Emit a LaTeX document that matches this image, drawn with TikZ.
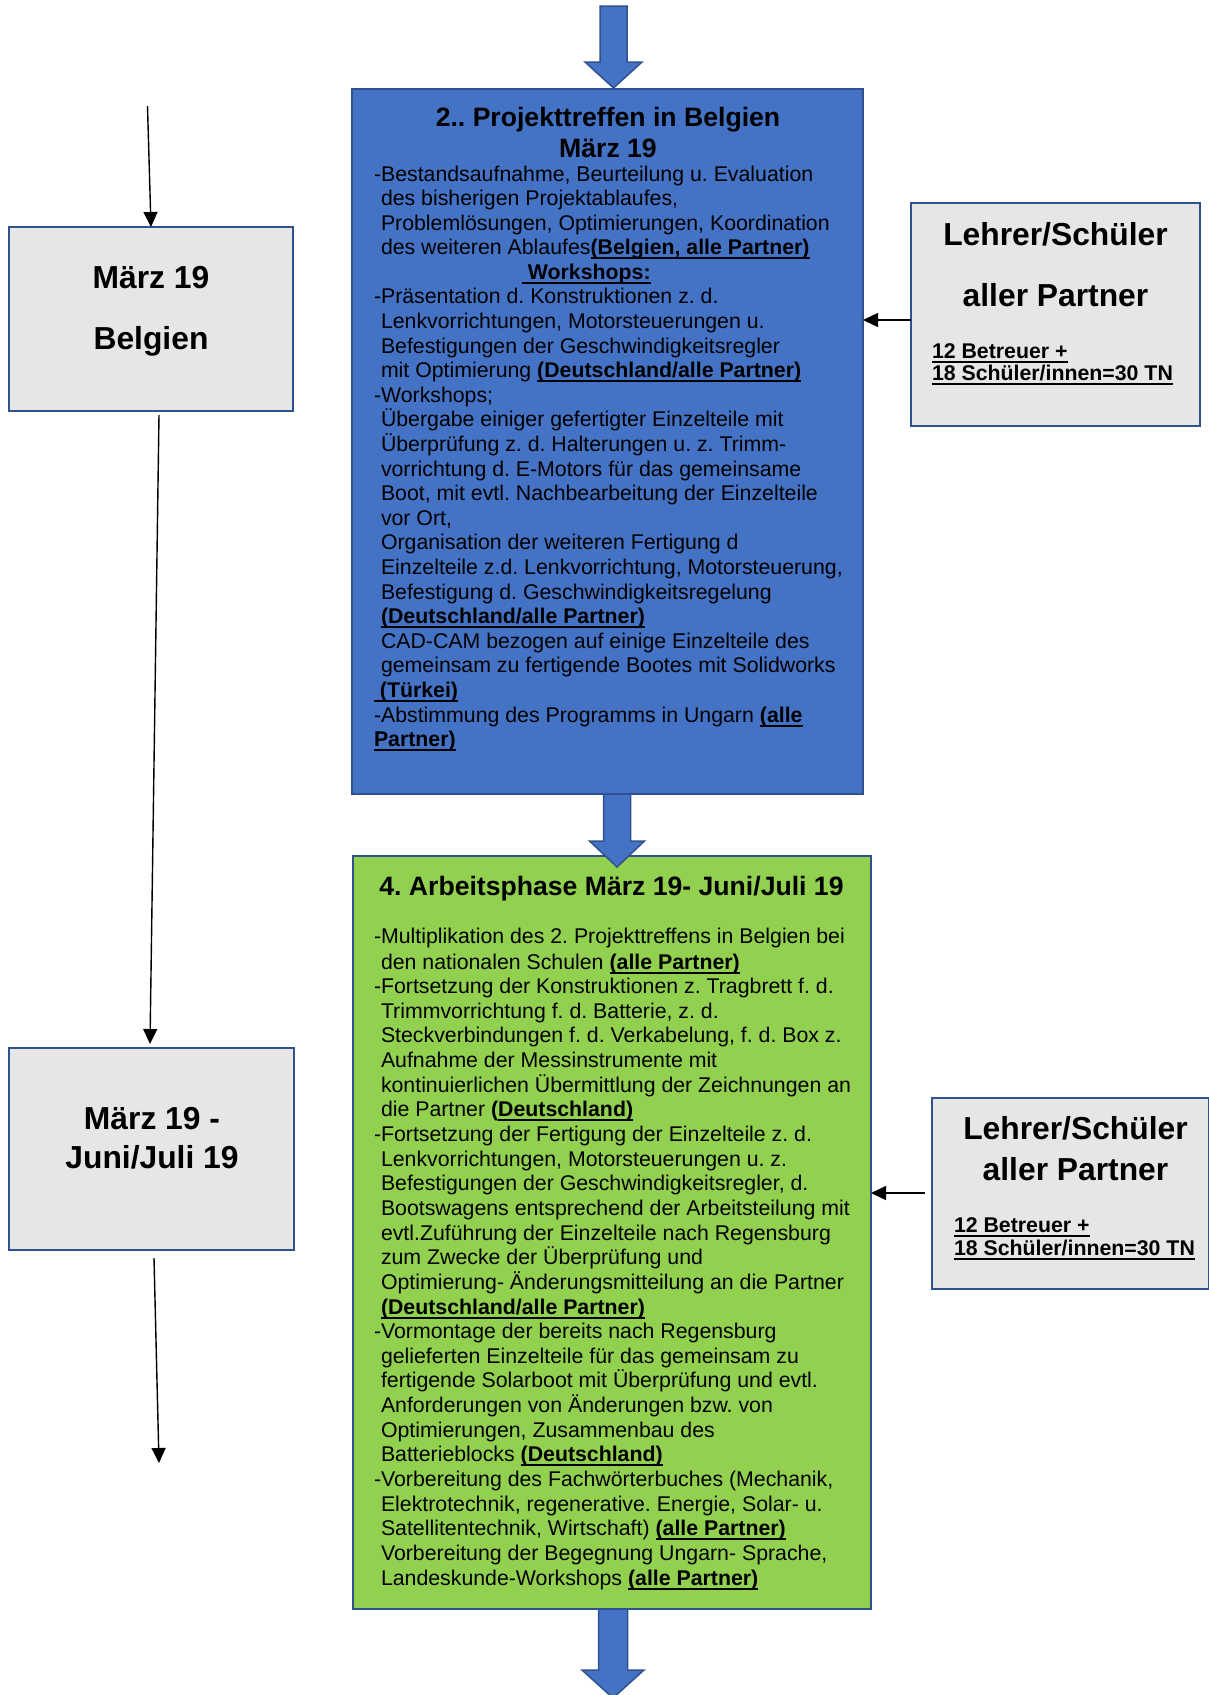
\documentclass[tikz,border=0pt]{standalone}
\usepackage{fontspec}
\setmainfont{Liberation Sans}
\usetikzlibrary{arrows.meta}

\definecolor{boxblue}{HTML}{4472C4}
\definecolor{boxgreen}{HTML}{92D050}
\definecolor{boxgray}{HTML}{E7E6E6}
\definecolor{edgeblue}{HTML}{2F528F}

% bold text with a heavy underline
\newsavebox\ulbox
\newcommand\ulb[1]{\sbox\ulbox{\bfseries #1}\rlap{\rule[-4.6pt]{\wd\ulbox}{2.1pt}}\usebox\ulbox}
\newcommand\bodyfont{\fontsize{21.3}{24.6}\selectfont}
\newcommand\headfont{\fontsize{26.6}{30.6}\selectfont\bfseries}
\newcommand\bigfont{\fontsize{31.8}{38}\selectfont\bfseries}

% wide downward block arrow: x, y top, y head, y tip, half shaft, half head
\newcommand\blockarrow[6]{%
  \draw[blockarr] ({#1-#5},#2) -- ({#1+#5},#2) -- ({#1+#5},#3) -- ({#1+#6},#3)
    -- (#1,#4) -- ({#1-#6},#3) -- ({#1-#5},#3) -- cycle;}

\frenchspacing
\begin{document}
\begin{tikzpicture}[x=1pt,y=-1pt,
  panel/.style={draw=edgeblue, line width=2.3pt, outer sep=0pt, inner sep=0pt},
  ln/.style={anchor=base west, inner sep=0pt, outer sep=0pt, font=\bodyfont},
  ulln/.style={anchor=base west, inner sep=0pt, outer sep=0pt, font=\bodyfont\bfseries},
  hd/.style={anchor=base, inner sep=0pt, outer sep=0pt, font=\headfont},
  big/.style={anchor=base, inner sep=0pt, outer sep=0pt, font=\bigfont},
  conn/.style={line width=1.4pt, -{Triangle[length=15pt,width=14pt]}},
  blockarr/.style={fill=boxblue, draw=edgeblue, line width=1.5pt, line join=miter},
]
\useasboundingbox (0,0) rectangle (1209,1695);

% panels
\node[panel, fill=boxblue,  minimum width=511pt, minimum height=705pt] (blue)  at (607.5,441.5) {};
\node[panel, fill=boxgreen, minimum width=518pt, minimum height=753pt] (green) at (612,1232.5) {};
\node[panel, fill=boxgray,  minimum width=289pt, minimum height=223pt] (rb1)   at (1055.5,314.5) {};
\node[panel, fill=boxgray,  minimum width=277pt, minimum height=191pt] (rb2)   at (1070.5,1193.5) {};
\node[panel, fill=boxgray,  minimum width=284pt, minimum height=184pt] (lb1)   at (151,319) {};
\node[panel, fill=boxgray,  minimum width=285pt, minimum height=202pt] (lb2)   at (151.5,1149) {};

% block arrows along the main column
\blockarrow{613.5}{6}{62}{88}{13.5}{28.5}
\blockarrow{617}{794}{841}{867}{13.5}{27.5}
\blockarrow{613}{1609}{1670}{1698}{14.5}{31}

% time line on the left
\coordinate (t0) at (147.5,106);
\coordinate (t1) at (159,415);
\coordinate (t2) at (154,1258);
\coordinate (t3) at (159,1463);
\draw[conn] (t0) -- (lb1.north);
\draw[conn] (t1) -- ([xshift=-1.5pt,yshift=4pt]lb2.north);
\draw[conn] (t2) -- (t3);

% participants feeding into the phases
\coordinate (p1) at (911,320);
\coordinate (p2) at (925,1193);
\draw[conn] (p1) -- (blue.east |- p1);
\draw[conn] (p2) -- (green.east |- p2);

% left dates
\node[big] (l1a) at (151,288) {März 19};
\node[big] (l1b) at (151,349) {Belgien};
\node[big] (l2a) at (152,1129) {März 19 -};
\node[big] (l2b) at (152,1168) {Juni/Juli 19};

% participants
\node[big] (r1a) at (1055.5,245) {Lehrer/Schüler};
\node[big] (r1b) at (1055.5,306) {aller Partner};
\node[ulln] (r1c) at (932,358) {\ulb{12 Betreuer +}};
\node[ulln] (r1d) at (932,380) {\ulb{18 Schüler/innen=30 TN}};
\node[big] (r2a) at (1075.5,1139) {Lehrer/Schüler};
\node[big] (r2b) at (1075.5,1180) {aller Partner};
\node[ulln] (r2c) at (954,1232) {\ulb{12 Betreuer +}};
\node[ulln] (r2d) at (954,1255) {\ulb{18 Schüler/innen=30 TN}};

% project meeting
\node[hd] (bt1) at (608,126.5) {2.. Projekttreffen in Belgien};
\node[hd] (bt2) at (608,157.5) {März 19};
\node[ln] (b1)  at (374,181.0) {-Bestandsaufnahme, Beurteilung u. Evaluation};
\node[ln] (b2)  at (381,205.6) {des bisherigen Projektablaufes,};
\node[ln] (b3)  at (381,230.2) {Problemlösungen, Optimierungen, Koordination};
\node[ln] (b4)  at (381,254.8) {des weiteren Ablaufes\ulb{(Belgien, alle Partner)}};
\node[ln] (b5)  at (522,279.4) {\ulb{\ Workshops:}};
\node[ln] (b6)  at (374,303.9) {-Präsentation d. Konstruktionen z. d.};
\node[ln] (b7)  at (381,328.5) {Lenkvorrichtungen, Motorsteuerungen u.};
\node[ln] (b8)  at (381,353.1) {Befestigungen der Geschwindigkeitsregler};
\node[ln] (b9)  at (381,377.7) {mit Optimierung \ulb{(Deutschland/alle Partner)}};
\node[ln] (b10) at (374,402.3) {-Workshops;};
\node[ln] (b11) at (381,426.9) {Übergabe einiger gefertigter Einzelteile mit};
\node[ln] (b12) at (381,451.5) {Überprüfung z. d. Halterungen u. z. Trimm-};
\node[ln] (b13) at (381,476.1) {vorrichtung d. E-Motors für das gemeinsame};
\node[ln] (b14) at (381,500.7) {Boot, mit evtl. Nachbearbeitung der Einzelteile};
\node[ln] (b15) at (381,525.3) {vor Ort,};
\node[ln] (b16) at (381,549.9) {Organisation der weiteren Fertigung d};
\node[ln] (b17) at (381,574.4) {Einzelteile z.d. Lenkvorrichtung, Motorsteuerung,};
\node[ln] (b18) at (381,599.0) {Befestigung d. Geschwindigkeitsregelung};
\node[ln] (b19) at (381,623.6) {\ulb{(Deutschland/alle Partner)}};
\node[ln] (b20) at (381,648.2) {CAD-CAM bezogen auf einige Einzelteile des};
\node[ln] (b21) at (381,672.8) {gemeinsam zu fertigende Bootes mit Solidworks};
\node[ln] (b22) at (374,697.4) {\ulb{\ (Türkei)}};
\node[ln] (b23) at (374,722.0) {-Abstimmung des Programms in Ungarn \ulb{(alle}};
\node[ln] (b24) at (374,746.6) {\ulb{Partner)}};

% work phase
\node[hd] (gt) at (611.5,895.5) {4. Arbeitsphase März 19- Juni/Juli 19};
\node[ln] (g1)  at (374,943.5)  {-Multiplikation des 2. Projekttreffens in Belgien bei};
\node[ln] (g2)  at (381,969.0)  {den nationalen Schulen \ulb{(alle Partner)}};
\node[ln] (g3)  at (374,993.6)  {-Fortsetzung der Konstruktionen z. Tragbrett f. d.};
\node[ln] (g4)  at (381,1018.3) {Trimmvorrichtung f. d. Batterie, z. d.};
\node[ln] (g5)  at (381,1042.9) {Steckverbindungen f. d. Verkabelung, f. d. Box z.};
\node[ln] (g6)  at (381,1067.6) {Aufnahme der Messinstrumente mit};
\node[ln] (g7)  at (381,1092.2) {kontinuierlichen Übermittlung der Zeichnungen an};
\node[ln] (g8)  at (381,1116.8) {die Partner \textbf{(}\ulb{Deutschland)}};
\node[ln] (g9)  at (374,1141.5) {-Fortsetzung der Fertigung der Einzelteile z. d.};
\node[ln] (g10) at (381,1166.1) {Lenkvorrichtungen, Motorsteuerungen u. z.};
\node[ln] (g11) at (381,1190.8) {Befestigungen der Geschwindigkeitsregler, d.};
\node[ln] (g12) at (381,1215.4) {Bootswagens entsprechend der Arbeitsteilung mit};
\node[ln] (g13) at (381,1240.0) {evtl.Zuführung der Einzelteile nach Regensburg};
\node[ln] (g14) at (381,1264.7) {zum Zwecke der Überprüfung und};
\node[ln] (g15) at (381,1289.3) {Optimierung- Änderungsmitteilung an die Partner};
\node[ln] (g16) at (381,1314.0) {\ulb{(Deutschland/alle Partner)}};
\node[ln] (g17) at (374,1338.6) {-Vormontage der bereits nach Regensburg};
\node[ln] (g18) at (381,1363.2) {gelieferten Einzelteile für das gemeinsam zu};
\node[ln] (g19) at (381,1387.9) {fertigende Solarboot mit Überprüfung und evtl.};
\node[ln] (g20) at (381,1412.5) {Anforderungen von Änderungen bzw. von};
\node[ln] (g21) at (381,1437.2) {Optimierungen, Zusammenbau des};
\node[ln] (g22) at (381,1461.8) {Batterieblocks \ulb{(Deutschland)}};
\node[ln] (g23) at (374,1486.4) {-Vorbereitung des Fachwörterbuches (Mechanik,};
\node[ln] (g24) at (381,1511.1) {Elektrotechnik, regenerative. Energie, Solar- u.};
\node[ln] (g25) at (381,1535.7) {Satellitentechnik, Wirtschaft) \ulb{(alle Partner)}};
\node[ln] (g26) at (381,1560.4) {Vorbereitung der Begegnung Ungarn- Sprache,};
\node[ln] (g27) at (381,1585.0) {Landeskunde-Workshops \ulb{(alle Partner)}};
\end{tikzpicture}
\end{document}
